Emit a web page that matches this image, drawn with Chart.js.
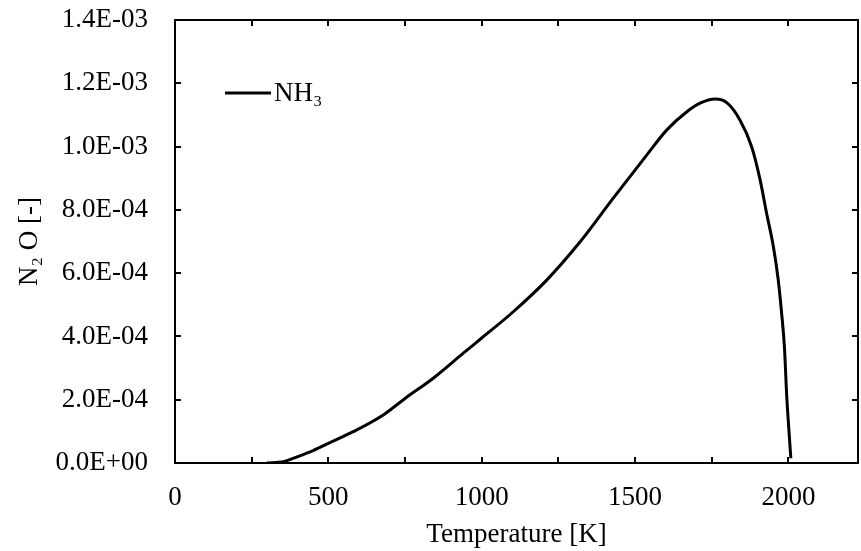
<!DOCTYPE html>
<html lang="en">
<head>
    <meta charset="UTF-8">
    <script src="https://cdn.jsdelivr.net/npm/chart.js"></script>
    <title>N2O vs Temperature</title>
    <style>
        html, body { margin: 0; padding: 0; background: #fff; }
        #wrap { width: 861px; height: 551px; }
    </style>
</head>
<body>
    <div id="wrap"><canvas id="myChart" width="861" height="551"></canvas></div>
    <script>
        // values
        const temperature = [300, 353, 400, 450, 500, 581, 679, 750, 842, 940, 1000, 1103, 1212, 1321, 1429, 1538, 1603, 1669, 1712, 1761, 1800, 1842, 1880, 1908, 1929, 1951, 1967, 1978, 1987, 1995, 2002, 2008];
        const n2o = [0, 4e-6, 2.0e-5, 3.9e-5, 6.2e-5, 9.9e-5, 1.52e-4, 2.04e-4, 2.68e-4, 3.47e-4, 3.95e-4, 4.78e-4, 5.78e-4, 6.99e-4, 8.37e-4, 9.73e-4, 1.052e-3, 1.110e-3, 1.137e-3, 1.150e-3, 1.138e-3, 1.084e-3, 1.0e-3, 8.94e-4, 7.89e-4, 6.84e-4, 5.78e-4, 4.73e-4, 3.68e-4, 2.04e-4, 1.0e-4, 1.5e-5];
        const xTicks = [0, 250, 500, 750, 1000, 1250, 1500, 1750, 2000];
        const xTickLabels = [0, 500, 1000, 1500, 2000];
        const yTicks = [0, 2e-4, 4e-4, 6e-4, 8e-4, 1.0e-3, 1.2e-3, 1.4e-3];

        const serif = 'Liberation Serif, Times New Roman, serif';
        const fontSize = 27;

        function sci(v) {
            if (Math.abs(v) < 1e-12) return '0.0E+00';
            let e = Math.floor(Math.log10(Math.abs(v)) + 1e-9);
            let m = v / Math.pow(10, e);
            if (Math.round(m * 10) / 10 >= 10) { m /= 10; e += 1; }
            const sign = e < 0 ? '-' : '+';
            return m.toFixed(1) + 'E' + sign + String(Math.abs(e)).padStart(2, '0');
        }

        // frame, inward ticks and in-plot legend
        const framePlugin = {
            id: 'frame',
            afterDraw(chart) {
                const { ctx, chartArea: a, scales } = chart;
                ctx.save();
                ctx.strokeStyle = '#000';
                ctx.lineWidth = 2;
                ctx.strokeRect(a.left, a.top, a.right - a.left, a.bottom - a.top);
                ctx.beginPath();
                xTicks.forEach(v => {
                    if (v === 0) return;
                    const px = Math.round(scales.x.getPixelForValue(v));
                    ctx.moveTo(px, a.bottom); ctx.lineTo(px, a.bottom - 6);
                    ctx.moveTo(px, a.top); ctx.lineTo(px, a.top + 6);
                });
                yTicks.forEach(v => {
                    const py = Math.round(scales.y.getPixelForValue(v));
                    ctx.moveTo(a.left, py); ctx.lineTo(a.left + 6, py);
                    ctx.moveTo(a.right, py); ctx.lineTo(a.right - 6, py);
                });
                ctx.stroke();

                const ds = chart.data.datasets[0];
                const lx = a.left + 50, ly = a.top + 73;
                ctx.lineWidth = 3;
                ctx.strokeStyle = ds.borderColor;
                ctx.beginPath();
                ctx.moveTo(lx, ly); ctx.lineTo(lx + 46, ly);
                ctx.stroke();
                ctx.fillStyle = '#000';
                ctx.font = fontSize + 'px ' + serif;
                ctx.textBaseline = 'middle';
                ctx.fillText(ds.label, lx + 49, ly + 1);
                ctx.restore();
            }
        };

        const ctx = document.getElementById('myChart').getContext('2d');
        new Chart(ctx, {
            type: 'line',
            data: {
                datasets: [{
                    label: 'NH\u2083',
                    data: temperature.map((t, i) => ({ x: t, y: n2o[i] })),
                    borderColor: '#000',
                    borderWidth: 3,
                    pointRadius: 0,
                    fill: false,
                    cubicInterpolationMode: 'monotone'
                }]
            },
            options: {
                responsive: false,
                animation: false,
                layout: { padding: { top: 20, right: 3, left: 0, bottom: 0 } },
                plugins: { legend: { display: false }, tooltip: { enabled: false } },
                scales: {
                    x: {
                        type: 'linear',
                        min: 0,
                        max: 2227,
                        afterBuildTicks(s) { s.ticks = xTicks.map(v => ({ value: v })); },
                        afterFit(s) { s.height = 88; s.paddingLeft = 0; s.paddingRight = 0; },
                        grid: { display: false, drawTicks: false },
                        border: { display: false },
                        ticks: {
                            maxRotation: 0,
                            autoSkip: false,
                            padding: 19,
                            color: '#000',
                            font: { family: serif, size: fontSize },
                            callback: v => xTickLabels.includes(v) ? String(v) : ''
                        },
                        title: {
                            display: true,
                            text: 'Temperature [K]',
                            color: '#000',
                            font: { family: serif, size: fontSize },
                            padding: { top: 0, bottom: 0 }
                        }
                    },
                    y: {
                        min: 0,
                        max: 1.4e-3,
                        afterBuildTicks(s) { s.ticks = yTicks.map(v => ({ value: v })); },
                        afterFit(s) { s.width = 175; s.paddingTop = 0; s.paddingBottom = 0; },
                        grid: { display: false, drawTicks: false },
                        border: { display: false },
                        ticks: {
                            padding: 27,
                            color: '#000',
                            font: { family: serif, size: fontSize },
                            callback: v => sci(v)
                        },
                        title: {
                            display: true,
                            text: 'N\u2082 O [-]',
                            color: '#000',
                            font: { family: serif, size: fontSize },
                            padding: { top: 14, bottom: 0 }
                        }
                    }
                }
            },
            plugins: [framePlugin]
        });
    </script>
</body>
</html>
